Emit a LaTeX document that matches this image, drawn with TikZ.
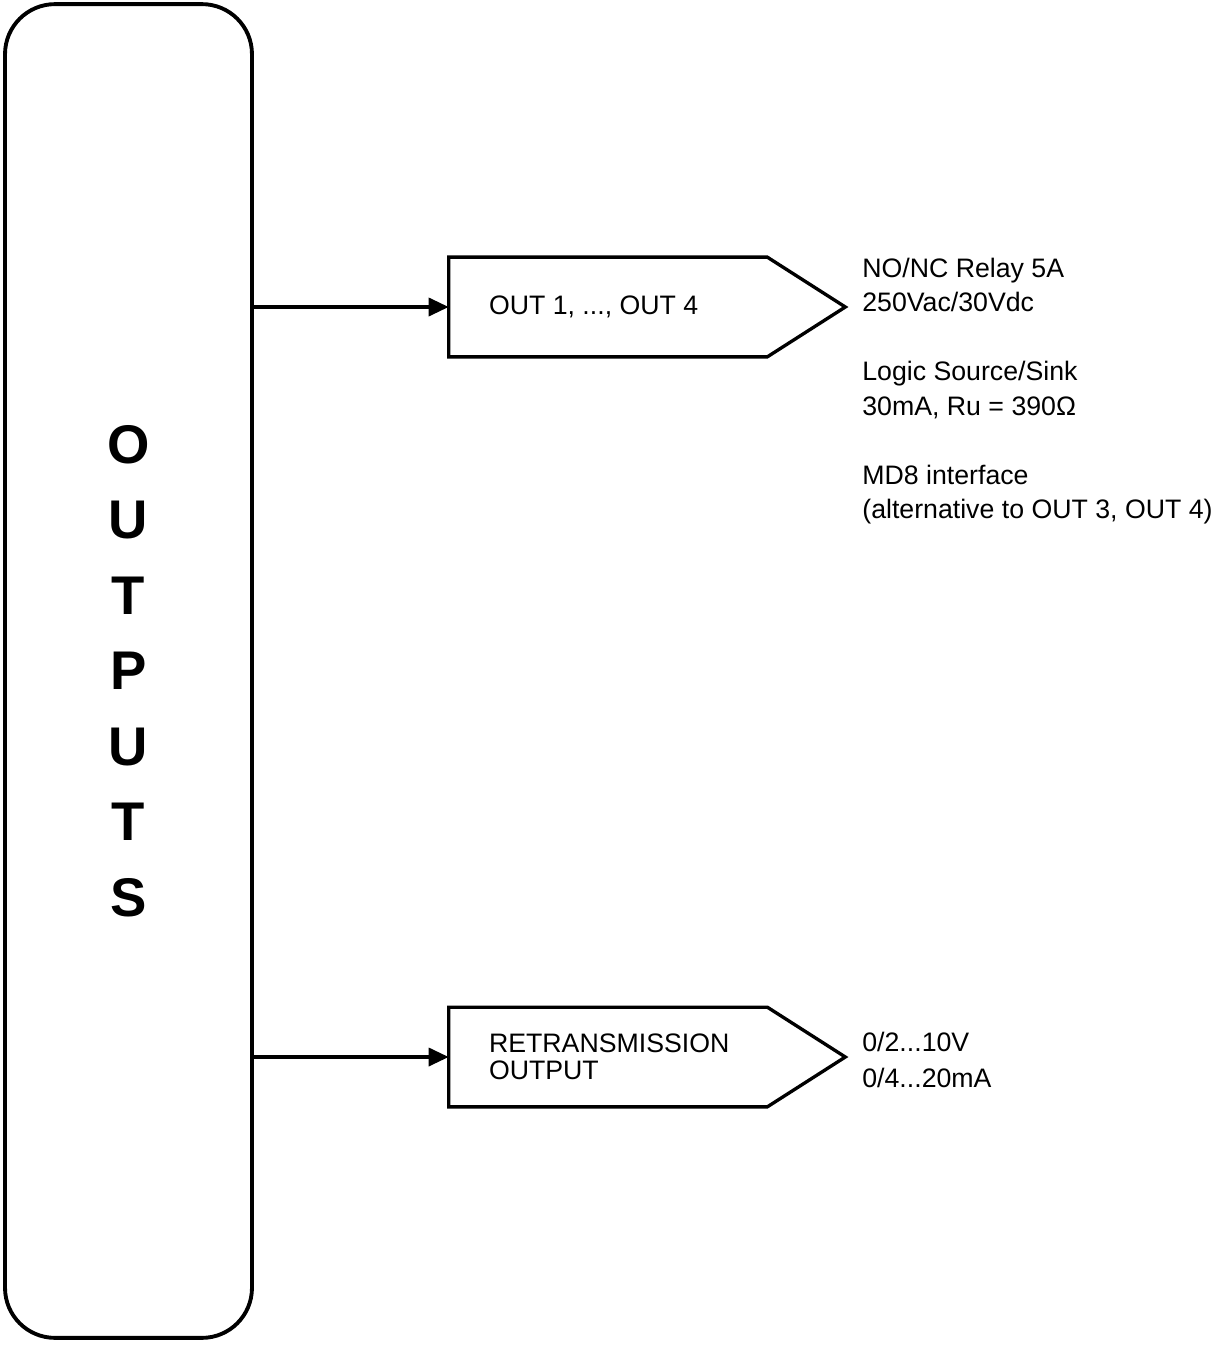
\documentclass[tikz,border=0pt]{standalone}
\usepackage{fontspec}
\setmainfont{Liberation Sans}
\usetikzlibrary{arrows.meta,calc,positioning}

\tikzset{
  unitbox/.style={draw,line width=2.2pt,rounded corners=1cm,
    minimum width=4.94cm,minimum height=26.68cm,align=center,
    font=\fontsize{31}{43}\selectfont\bfseries},
  tagbody/.style={minimum width=6.36cm,minimum height=1.98cm,inner sep=0pt},
  tagline/.style={line width=1.9pt,line join=miter},
  tagtext/.style={inner sep=0pt,align=left,font=\fontsize{15.2}{15.3}\selectfont},
  feed/.style={line width=2pt,-{Triangle[length=0.4cm,width=0.36cm]}},
  spec/.style={anchor=west,inner sep=0pt,align=left,font=\fontsize{15.2}{19.6}\selectfont}
}

\begin{document}
\begin{tikzpicture}[x=0.02cm,y=-0.02cm]
    \useasboundingbox (0,0) rectangle (1220,1345);

    % main block
    \node[unitbox] (outputs) at (128.5,671) {O\\U\\T\\P\\U\\T\\S};

    % digital outputs
    \node[tagbody] (out) at (608,307) {};
    \draw[tagline] (out.north west) -- (out.north east) -- ($(out.east)+(78,0)$)
      -- (out.south east) -- (out.south west) -- cycle;
    \node[tagtext,right=0.8cm of out.west] (outtxt) {OUT 1, ..., OUT 4};
    \draw[feed] (outputs.east |- out.west) -- (out.west);
    \node[spec] (outspec) at (862,391) {NO/NC Relay 5A\\250Vac/30Vdc\\[19.6pt]
      Logic Source/Sink\\30mA, Ru = 390Ω\\[19.6pt]
      MD8 interface\\(alternative to OUT 3, OUT 4)};

    % analog retransmission
    \node[tagbody] (retr) at (608,1057) {};
    \draw[tagline] (retr.north west) -- (retr.north east) -- ($(retr.east)+(78,0)$)
      -- (retr.south east) -- (retr.south west) -- cycle;
    \node[tagtext,right=0.8cm of retr.west] (retrtxt) {RETRANSMISSION\\OUTPUT};
    \draw[feed] (outputs.east |- retr.west) -- (retr.west);
    \node[spec,font=\fontsize{15.2}{20.4}\selectfont] (retrspec) at (862,1060) {0/2...10V\\0/4...20mA};
\end{tikzpicture}
\end{document}
